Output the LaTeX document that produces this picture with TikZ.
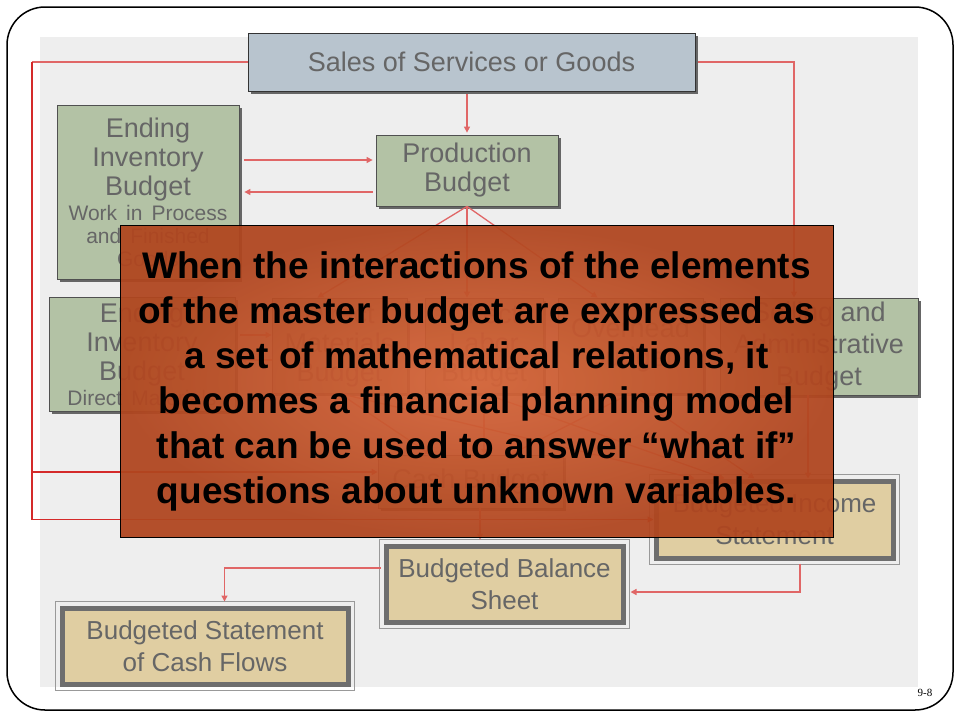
\documentclass[tikz,border=0pt]{standalone}
\usepackage{fontspec}
\setmainfont{Liberation Sans}
\newfontfamily\numfont{Liberation Serif}
\usetikzlibrary{arrows.meta,shadows}
\definecolor{panel}{HTML}{EEEEEE}
\definecolor{salesfill}{HTML}{B8C4CE}
\definecolor{sage}{HTML}{B3C2A5}
\definecolor{tanfill}{HTML}{E0CEA2}
\definecolor{txtgray}{HTML}{666666}
\definecolor{edgegray}{HTML}{505050}
\definecolor{shadowgray}{HTML}{666666}
\definecolor{tanedge}{HTML}{6E6E6E}
\definecolor{thingray}{HTML}{999999}
\definecolor{arrowred}{HTML}{E06666}
\definecolor{darkred}{HTML}{D42A2A}
\definecolor{ovlin}{HTML}{D6653A}
\definecolor{ovlout}{HTML}{B0461F}
\tikzset{
  gbox/.style={draw=edgegray, line width=0.8pt, fill=sage, text=txtgray, align=center,
    inner sep=0pt, font=\fontsize{27}{29}\selectfont,
    drop shadow={shadow xshift=3pt, shadow yshift=-3pt, fill=shadowgray, opacity=1}},
  tbox/.style={draw=tanedge, line width=5pt, fill=tanfill, text=txtgray, align=center,
    inner sep=0pt, font=\fontsize{26}{32}\selectfont},
  tframe/.style={draw=thingray, line width=0.8pt},
  arr/.style={draw=arrowred, line width=1.3pt, -{Triangle[length=6pt,width=6pt]}},
  loopline/.style={draw=darkred, line width=1.3pt},
  ovlbox/.style={draw=black, line width=0.8pt, inner color=ovlin, outer color=ovlout,
    fill opacity=0.94, text opacity=1, text=black, align=center, inner sep=0pt,
    font=\fontsize{37}{45}\bfseries\selectfont}
}
\begin{document}
\begin{tikzpicture}[x=1pt,y=-1pt]
\useasboundingbox (0,0) rectangle (960,720);
\fill[white] (0,0) rectangle (960,720);
\draw[line width=1.5pt, rounded corners=38pt] (7,7) rectangle (953,710);
\fill[panel] (40,37) rectangle (918,687);

% boxes
\node[gbox, fill=salesfill, draw=black!80, minimum width=447pt, minimum height=58pt] (sales) at (471.5,62) {Sales of Services or Goods};
\node[gbox, minimum width=182pt, minimum height=174pt, text width=182pt] (eib1) at (148,192)
  {Ending\par Inventory\par Budget\par\fontsize{21}{25}\selectfont Work in Process\par\fontsize{21}{23}\selectfont and Finished\par Goods\par};
\node[gbox, minimum width=182pt, minimum height=71pt] (prod) at (467,170.5) {Production\\Budget};
\node[gbox, minimum width=186pt, minimum height=114pt, text width=186pt] (eib2) at (142,354)
  {Ending\par Inventory\par Budget\par\fontsize{21}{25}\selectfont Direct Materials\par};
\node[gbox, minimum width=135pt, minimum height=95pt] (mat) at (339.5,345.5) {Direct\\Materials\\Budget};
\node[gbox, minimum width=118pt, minimum height=95pt] (lab) at (484,345.5) {Direct\\Labor\\Budget};
\node[gbox, minimum width=145pt, minimum height=95pt] (ovh) at (630.5,345.5) {Overhead\\Budget};
\node[gbox, minimum width=198pt, minimum height=97pt, font=\fontsize{27}{32}\selectfont] (sell) at (819,346.5) {Selling and\\Administrative\\Budget};
\node[gbox, minimum width=185pt, minimum height=53pt] (cash) at (470.5,481.5) {Cash Budget};

\node[tbox, minimum width=237pt, minimum height=77pt] (inc) at (774.5,519.5) {Budgeted Income\\Statement};
\node[tbox, minimum width=237pt, minimum height=76pt] (bal) at (504.5,584) {Budgeted Balance\\Sheet};
\node[tbox, minimum width=286pt, minimum height=76pt] (cfs) at (205,646) {Budgeted Statement\\of Cash Flows};
\draw[tframe] ([shift={(-3.8,-3.8)}]inc.north west) rectangle ([shift={(3.8,3.8)}]inc.south east);
\draw[tframe] ([shift={(-3.8,-3.8)}]bal.north west) rectangle ([shift={(3.8,3.8)}]bal.south east);
\draw[tframe] ([shift={(-3.8,-3.8)}]cfs.north west) rectangle ([shift={(3.8,3.8)}]cfs.south east);

% connectors
\coordinate (ltop) at (32,62);
\coordinate (lmid) at (32,472);
\coordinate (lbot) at (32,519.5);
\coordinate (rtop) at (794,62);
\draw[loopline, draw=arrowred] (sales.west) -- (ltop);
\draw[loopline] (ltop) -- (lbot);
\draw[arr, draw=darkred] (lbot) -- (inc.west);
\draw[arr, draw=darkred] (lmid) -- ([yshift=9.5pt]cash.west);
\draw[arr, shorten <=3pt] (sales.east) -- (rtop) -- (rtop |- sell.north);
\draw[arr, shorten <=3pt, shorten >=2pt] (prod.north |- sales.south) -- (prod.north);
\draw[arr, shorten <=5pt, shorten >=3pt] ([yshift=32pt]eib1.east) -- ([yshift=10.5pt]prod.west);
\draw[arr, shorten <=3pt, shorten >=5pt] ([yshift=-21.5pt]prod.west) -- (eib1.east);
\draw[arr] (prod.south) -- ([xshift=-22pt]mat.north);
\draw[arr] (prod.south) -- (prod.south |- lab.north);
\draw[arr] (prod.south) -- ([xshift=-33pt]ovh.north);
\draw[arr, shorten <=5pt] ([yshift=19pt]eib2.east) -- ([yshift=10.5pt]mat.west);
\draw[arr, shorten >=5pt] ([yshift=-14.5pt]mat.west) -- ([yshift=-6pt]eib2.east);
\draw[arr] (mat.south) -- ([xshift=-40pt]cash.north);
\draw[arr] (mat.south) -- ([xshift=-80pt]inc.north);
\draw[arr] (lab.south) -- (lab.south |- cash.north);
\draw[arr] (lab.south) -- ([xshift=-50pt]inc.north);
\draw[arr] (ovh.south) -- ([xshift=40pt]cash.north);
\draw[arr] (ovh.south) -- ([xshift=-20pt]inc.north);
\draw[arr] ([xshift=-11pt]sell.south) -- ([xshift=-11pt]sell.south |- inc.north);
\draw[arr, shorten >=4pt] ([xshift=9.5pt]cash.south) -- ([xshift=9.5pt]cash.south |- bal.north);
\draw[arr, shorten <=3pt, shorten >=5pt] ([xshift=25.5pt]inc.south) |- ([yshift=-8pt]bal.east);
\draw[arr, shorten <=3pt, shorten >=4pt] ([yshift=16pt]bal.west) -| ([xshift=19.5pt]cfs.north);

% overlay
\node[ovlbox, minimum width=713pt, minimum height=312pt] (ovl) at (476.5,381)
  {When the interactions of the elements\\of the master budget are expressed as\\a set of mathematical relations, it\\becomes a financial planning model\\that can be used to answer “what if”\\questions about unknown variables.};

\node[font=\numfont\fontsize{11}{13}\selectfont, inner sep=0pt] (pagenum) at (925,693) {9-8};
\end{tikzpicture}
\end{document}
